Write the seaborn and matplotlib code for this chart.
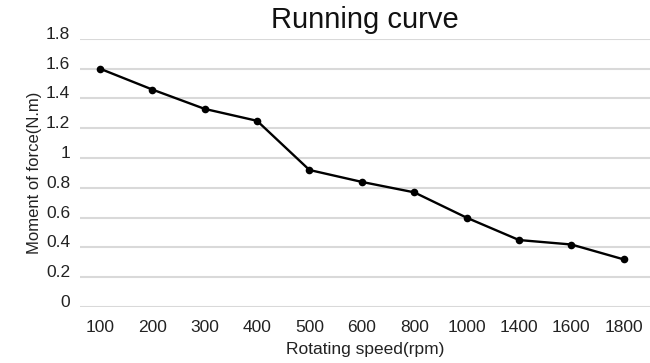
import pandas as pd
import matplotlib.pyplot as plt
import seaborn as sns

# chart data
speeds = ["100", "200", "300", "400", "500", "600", "800", "1000", "1400", "1600", "1800"]
moments = [1.60, 1.46, 1.33, 1.25, 0.92, 0.84, 0.77, 0.60, 0.45, 0.42, 0.32]
y_ticks = [0, 0.2, 0.4, 0.6, 0.8, 1.0, 1.2, 1.4, 1.6, 1.8]
y_tick_labels = ["0", "0.2", "0.4", "0.6", "0.8", "1", "1.2", "1.4", "1.6", "1.8"]

df = pd.DataFrame({"speed": speeds, "moment": moments})

sns.set_style("white")
plt.rcParams['font.family'] = ['Liberation Sans', 'DejaVu Sans']

fig = plt.figure(figsize=(6.5, 3.63), dpi=100)
ax = fig.add_axes([0.123, 0.154, 0.877, 0.739])

sns.lineplot(data=df, x="speed", y="moment", sort=False, color="black",
             linewidth=1.7, marker="o", markersize=5.5, markeredgewidth=0, ax=ax)

ax.set_ylim(0, 1.8)
ax.set_xlim(-0.38, 10.5)
ax.set_yticks(y_ticks)
ax.set_yticklabels(y_tick_labels)
ax.yaxis.grid(True, color="#d9d9d9", linewidth=1.5)
ax.set_axisbelow(True)
for s in ax.spines.values():
    s.set_visible(False)
ax.tick_params(axis="both", length=0, labelsize=12.5, colors="#222222")
ax.tick_params(axis="x", pad=9)
ax.tick_params(axis="y", pad=7)
# labels sit slightly above their gridlines, as in the reference
for lbl in ax.get_yticklabels():
    lbl.set_va("baseline")

ax.set_xlabel("Rotating speed(rpm)", fontsize=12.5, labelpad=5, color="#222222")
ax.set_ylabel("Moment of force(N.m)", fontsize=12, labelpad=3, color="#222222")
ax.set_title("Running curve", fontsize=21, pad=8, color="#111111")

fig.savefig("out.png", dpi=100)
